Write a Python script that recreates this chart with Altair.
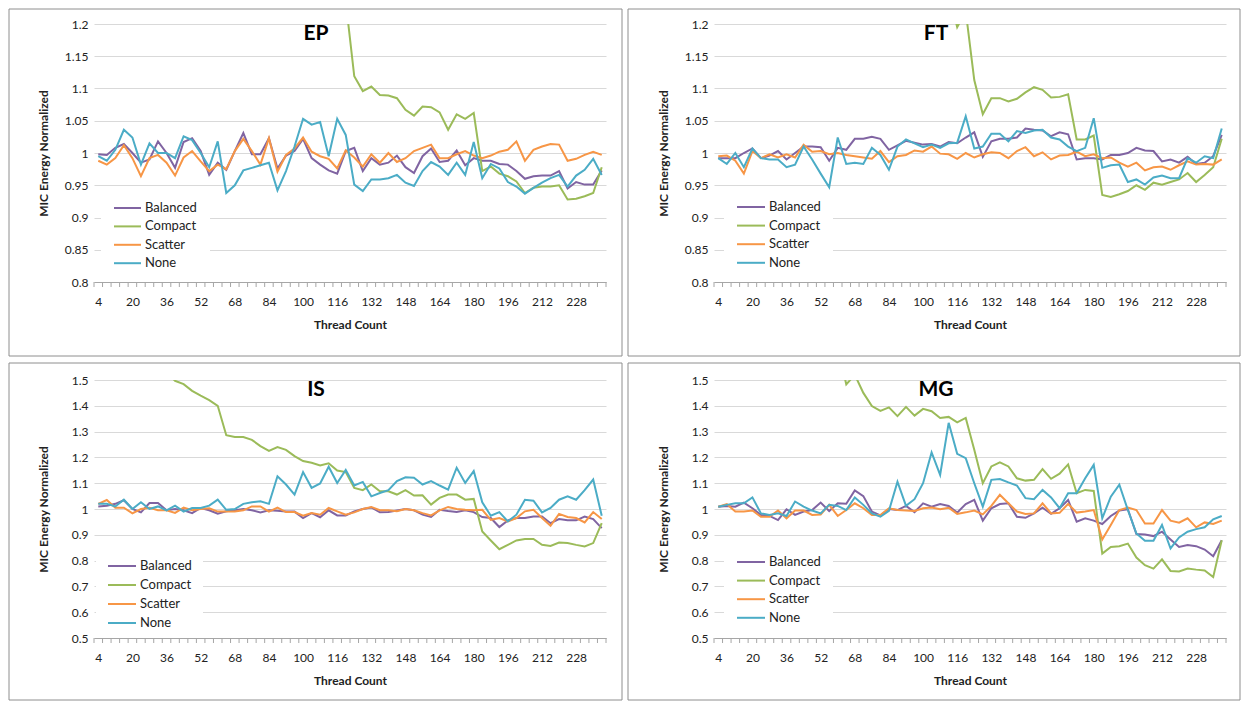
import altair as alt
import pandas as pd

# ---------------- data ----------------
THREADS = list(range(4, 241, 4))
SERIES = ["Balanced", "Compact", "Scatter", "None"]
COLORS = ["#8064A2", "#9BBB59", "#F79646", "#4BACC6"]
X_LABELS = list(range(4, 229, 16))
Y_TICKS_TOP = [0.8, 0.85, 0.9, 0.95, 1.0, 1.05, 1.1, 1.15, 1.2]
Y_TICKS_BOTTOM = [0.5, 0.6, 0.7, 0.8, 0.9, 1.0, 1.1, 1.2, 1.3, 1.4, 1.5]

EP_BALANCED = [0.998, 0.997, 1.008, 1.014, 1.000, 0.985, 0.990, 1.018, 1.000, 0.977, 1.017, 1.023, 1.003, 0.966, 0.985, 0.974, 1.003, 1.031, 0.998, 0.998, 1.023, 0.976,
               0.996, 1.003, 1.022, 0.992, 0.982, 0.973, 0.968, 1.003, 1.008, 0.972, 0.992, 0.982, 0.985, 0.996, 0.978, 0.969, 0.995, 1.007, 0.986, 0.988,
               1.004, 0.981, 0.992, 0.988, 0.988, 0.983, 0.982, 0.972, 0.960, 0.964, 0.965, 0.965, 0.972, 0.945, 0.955, 0.951, 0.951, 0.973]
EP_COMPACT = [1.95, 1.93, 1.90, 1.88, 1.86, 1.83, 1.80, 1.78, 1.75, 1.72, 1.70, 1.67, 1.65, 1.62, 1.60, 1.58, 1.55, 1.53, 1.50, 1.48, 1.46, 1.44,
              1.42, 1.40, 1.38, 1.36, 1.34, 1.31, 1.29, 1.235, 1.119, 1.096, 1.103, 1.090, 1.089, 1.085, 1.067, 1.058, 1.072, 1.071, 1.063, 1.036,
              1.060, 1.053, 1.062, 0.972, 0.979, 0.968, 0.964, 0.956, 0.938, 0.946, 0.948, 0.948, 0.950, 0.928, 0.929, 0.933, 0.938, 0.978]
EP_SCATTER = [0.988, 0.982, 0.992, 1.012, 0.992, 0.964, 0.992, 0.997, 0.985, 0.965, 0.993, 1.003, 0.987, 0.972, 0.982, 0.975, 1.003, 1.022, 1.003, 0.982, 1.023, 0.971,
              0.997, 1.007, 1.024, 1.002, 0.995, 0.991, 0.976, 1.004, 0.993, 0.979, 0.998, 0.985, 1.000, 0.986, 0.992, 1.003, 1.008, 1.013, 0.992, 0.992,
              0.998, 1.003, 0.996, 0.992, 0.996, 1.002, 1.005, 1.018, 0.988, 1.005, 1.010, 1.014, 1.013, 0.988, 0.991, 0.997, 1.002, 0.997]
EP_NONE = [0.995, 0.988, 1.005, 1.036, 1.024, 0.982, 1.015, 1.000, 1.000, 0.992, 1.026, 1.020, 1.000, 0.978, 1.018, 0.938, 0.950, 0.973, 0.977, 0.981, 0.985, 0.942,
           0.972, 1.010, 1.053, 1.044, 1.048, 0.995, 1.053, 1.028, 0.951, 0.941, 0.959, 0.959, 0.961, 0.966, 0.954, 0.949, 0.972, 0.986, 0.979, 0.966,
           0.985, 0.966, 1.017, 0.961, 0.983, 0.976, 0.955, 0.948, 0.937, 0.946, 0.954, 0.961, 0.966, 0.948, 0.965, 0.974, 0.991, 0.966]

FT_BALANCED = [0.992, 0.992, 0.992, 1.000, 1.007, 0.992, 0.996, 1.003, 0.990, 1.000, 1.010, 1.010, 1.009, 0.988, 1.008, 1.005, 1.022, 1.022, 1.025, 1.022, 1.005, 1.012,
               1.019, 1.016, 1.013, 1.014, 1.010, 1.017, 1.015, 1.024, 1.032, 0.994, 1.018, 1.022, 1.022, 1.024, 1.038, 1.036, 1.035, 1.026, 1.032, 1.029,
               0.990, 0.992, 0.992, 0.990, 0.997, 0.997, 1.000, 1.008, 1.004, 1.003, 0.987, 0.990, 0.985, 0.994, 0.983, 0.985, 0.995, 1.028]
FT_COMPACT = [1.81, 1.78, 1.77, 1.74, 1.71, 1.70, 1.67, 1.66, 1.63, 1.62, 1.59, 1.58, 1.55, 1.54, 1.52, 1.49, 1.48, 1.45, 1.44, 1.41, 1.40, 1.37,
              1.36, 1.33, 1.32, 1.29, 1.27, 1.25, 1.195, 1.22, 1.113, 1.060, 1.085, 1.085, 1.080, 1.084, 1.094, 1.102, 1.098, 1.086, 1.087, 1.091,
              1.021, 1.021, 1.027, 0.935, 0.932, 0.936, 0.941, 0.950, 0.943, 0.954, 0.951, 0.955, 0.959, 0.969, 0.955, 0.966, 0.978, 1.022]
FT_SCATTER = [0.995, 0.996, 0.988, 0.968, 1.003, 0.992, 0.998, 0.993, 0.998, 0.993, 1.013, 1.002, 1.003, 0.998, 1.000, 0.997, 0.995, 0.993, 0.991, 1.003, 0.986, 0.995,
              0.997, 1.004, 1.002, 1.010, 0.999, 0.998, 0.991, 1.000, 0.993, 0.998, 1.001, 1.000, 0.992, 1.003, 1.009, 0.995, 1.001, 0.990, 0.996, 0.997,
              1.002, 0.995, 0.998, 0.992, 0.993, 0.985, 0.979, 0.985, 0.973, 0.978, 0.979, 0.974, 0.981, 0.987, 0.982, 0.983, 0.982, 0.990]
FT_NONE = [0.992, 0.983, 1.000, 0.978, 1.007, 0.992, 0.990, 0.990, 0.978, 0.982, 1.010, 0.990, 0.968, 0.947, 1.024, 0.983, 0.985, 0.983, 1.008, 0.997, 0.974, 1.010,
           1.021, 1.015, 1.009, 1.013, 1.008, 1.015, 1.016, 1.057, 1.007, 1.010, 1.030, 1.030, 1.018, 1.034, 1.031, 1.035, 1.036, 1.024, 1.021, 1.010,
           1.003, 1.008, 1.054, 0.977, 0.981, 0.982, 0.955, 0.959, 0.951, 0.962, 0.965, 0.961, 0.961, 0.992, 0.985, 0.995, 0.992, 1.038]

IS_BALANCED = [1.010, 1.013, 1.020, 1.034, 1.000, 0.987, 1.023, 1.023, 0.995, 1.000, 0.995, 0.984, 1.004, 0.995, 0.982, 0.991, 0.995, 1.000, 0.995, 0.987, 0.995, 0.993,
               0.990, 0.990, 0.965, 0.984, 0.968, 0.995, 0.975, 0.975, 0.991, 1.000, 1.006, 0.987, 0.988, 0.994, 1.000, 0.995, 0.978, 0.969, 0.997, 0.992,
               0.988, 0.995, 0.988, 0.969, 0.965, 0.930, 0.956, 0.965, 0.965, 0.971, 0.971, 0.945, 0.961, 0.956, 0.956, 0.971, 0.961, 0.926]
IS_COMPACT = [2.10, 2.02, 1.95, 1.88, 1.80, 1.73, 1.66, 1.60, 1.53, 1.497, 1.484, 1.458, 1.439, 1.422, 1.400, 1.286, 1.279, 1.279, 1.268, 1.244, 1.225, 1.240,
              1.229, 1.205, 1.186, 1.179, 1.169, 1.177, 1.149, 1.143, 1.082, 1.073, 1.095, 1.069, 1.069, 1.056, 1.073, 1.052, 1.053, 1.017, 1.043, 1.056,
              1.056, 1.036, 1.039, 0.913, 0.878, 0.844, 0.861, 0.878, 0.884, 0.884, 0.861, 0.857, 0.870, 0.868, 0.861, 0.855, 0.868, 0.945]
IS_SCATTER = [1.020, 1.035, 1.005, 1.005, 0.983, 1.000, 1.005, 0.995, 0.995, 0.985, 1.005, 0.995, 1.000, 1.003, 0.990, 0.990, 0.990, 0.995, 1.010, 1.010, 0.990, 1.005,
              0.988, 0.988, 0.974, 0.984, 0.978, 1.004, 0.991, 0.978, 0.987, 1.000, 1.008, 0.995, 0.995, 0.991, 1.000, 0.995, 0.984, 0.975, 0.995, 1.008,
              1.000, 0.997, 0.995, 0.997, 0.958, 0.965, 0.952, 0.965, 0.991, 0.997, 0.965, 0.935, 0.981, 0.969, 0.965, 0.948, 0.988, 0.961]
IS_NONE = [1.020, 1.020, 1.010, 1.036, 1.000, 1.026, 1.000, 1.010, 0.995, 1.013, 0.990, 1.004, 1.004, 1.013, 1.036, 0.997, 1.000, 1.020, 1.026, 1.030, 1.020, 1.127,
           1.095, 1.056, 1.143, 1.082, 1.099, 1.164, 1.101, 1.151, 1.091, 1.105, 1.049, 1.062, 1.073, 1.108, 1.123, 1.121, 1.095, 1.108, 1.091, 1.075,
           1.160, 1.101, 1.147, 1.026, 0.974, 0.988, 0.952, 0.978, 1.036, 1.032, 0.987, 1.004, 1.036, 1.049, 1.036, 1.073, 1.114, 0.974]

MG_BALANCED = [1.009, 1.012, 1.009, 1.025, 1.003, 0.977, 0.973, 0.957, 0.999, 0.977, 0.990, 0.996, 1.025, 0.992, 1.022, 1.020, 1.072, 1.050, 0.990, 0.975, 1.000, 0.996,
               1.012, 0.988, 1.022, 1.009, 1.019, 1.012, 0.986, 1.019, 1.035, 0.955, 1.003, 1.019, 1.022, 0.970, 0.966, 0.983, 1.005, 0.981, 1.003, 1.035,
               0.951, 0.964, 0.955, 0.942, 0.973, 0.994, 0.999, 0.903, 0.901, 0.895, 0.912, 0.882, 0.853, 0.860, 0.856, 0.843, 0.817, 0.879]
MG_COMPACT = [2.30, 2.22, 2.15, 2.08, 2.02, 1.96, 1.90, 1.85, 1.80, 1.76, 1.72, 1.69, 1.67, 1.65, 1.63, 1.483, 1.52, 1.45, 1.399, 1.380, 1.394, 1.360,
              1.396, 1.362, 1.388, 1.379, 1.353, 1.357, 1.336, 1.353, 1.230, 1.100, 1.165, 1.181, 1.165, 1.119, 1.110, 1.113, 1.155, 1.117, 1.137, 1.173,
              1.061, 1.074, 1.070, 0.827, 0.853, 0.856, 0.866, 0.812, 0.782, 0.769, 0.805, 0.760, 0.758, 0.769, 0.765, 0.762, 0.736, 0.879]
MG_SCATTER = [1.009, 1.019, 0.990, 0.990, 0.994, 0.970, 0.970, 0.994, 0.964, 0.994, 0.994, 0.977, 0.979, 1.016, 0.973, 0.996, 1.022, 1.003, 0.977, 0.977, 1.003, 0.996,
              0.994, 0.992, 1.003, 1.006, 0.999, 1.005, 0.981, 0.987, 0.994, 0.979, 1.012, 1.055, 1.022, 0.990, 0.981, 0.983, 1.022, 0.983, 0.985, 1.020,
              0.986, 0.990, 0.996, 0.882, 0.938, 0.996, 1.006, 0.996, 0.944, 0.944, 0.996, 0.955, 0.947, 0.964, 0.929, 0.948, 0.942, 0.955]
MG_NONE = [1.009, 1.016, 1.022, 1.022, 1.045, 0.983, 0.977, 0.983, 0.973, 1.029, 1.009, 0.994, 0.983, 1.016, 1.012, 0.996, 1.045, 1.016, 0.983, 0.970, 0.993, 1.106,
           1.012, 1.038, 1.100, 1.219, 1.132, 1.334, 1.214, 1.197, 1.100, 1.009, 1.113, 1.116, 1.103, 1.091, 1.042, 1.038, 1.074, 1.045, 1.003, 1.061,
           1.061, 1.119, 1.171, 0.964, 1.048, 1.094, 0.996, 0.905, 0.877, 0.877, 0.938, 0.847, 0.890, 0.912, 0.922, 0.929, 0.960, 0.973]

# ---------------- layout / style ----------------
W, H = 512, 258
FONT = "Lato"
TXT = "#222222"
AXIS_GRAY = "#A6A6A6"
FRAME_GRAY = "#8E8E8E"

BOUNDARIES = [t - 2 for t in THREADS] + [THREADS[-1] + 2]


def make_panel(title, values, y_dom, y_ticks, leg, frame_box):
    x_sc = alt.Scale(domain=[BOUNDARIES[0], BOUNDARIES[-1]], nice=False, zero=False)
    y_sc = alt.Scale(domain=y_dom, nice=False, zero=False)
    x_axis = alt.Axis(values=X_LABELS, title="Thread Count", grid=False, ticks=False, tickSize=0,
                      domainColor=AXIS_GRAY, labelFont=FONT, labelFontSize=12, labelColor=TXT,
                      labelPadding=14, labelFlush=False, labelOverlap=False,
                      titleFont=FONT, titleFontSize=12, titleFontWeight="bold", titleColor=TXT,
                      titleY=42, titleBaseline="middle")
    y_axis = alt.Axis(values=y_ticks, format="~g", title="MIC Energy Normalized", grid=True,
                      gridColor="#D9D9D9", gridWidth=1, domain=False, ticks=False,
                      labelFont=FONT, labelFontSize=12, labelColor=TXT, labelPadding=6,
                      titleFont=FONT, titleFontSize=12, titleFontWeight="bold", titleColor=TXT,
                      titleX=-51, titleY=H / 2, titleAngle=270, titleAlign="center",
                      titleBaseline="middle")

    line_layers = []
    for s, c, vals in zip(SERIES, COLORS, values):
        d = pd.DataFrame({"thread": THREADS, "value": vals})
        line_layers.append(
            alt.Chart(d).mark_line(clip=True, strokeWidth=2, color=c).encode(
                x=alt.X("thread:Q", scale=x_sc, axis=x_axis),
                y=alt.Y("value:Q", scale=y_sc, axis=y_axis),
            )
        )
    ticks = alt.Chart(pd.DataFrame({"b": BOUNDARIES})).mark_rule(color=AXIS_GRAY, strokeWidth=1).encode(
        x=alt.X("b:Q", scale=x_sc, axis=x_axis),
        y=alt.value(H),
        y2=alt.value(H + 5),
    )
    lines = alt.layer(*line_layers, ticks)

    one = pd.DataFrame({"k": [0]})
    fl, fr, ft_, fb = frame_box
    frame = alt.Chart(one).mark_rect(filled=False, stroke=FRAME_GRAY, strokeWidth=1).encode(
        x=alt.value(fl), x2=alt.value(W + fr), y=alt.value(ft_), y2=alt.value(H + fb)
    )
    bx0, bx1, by0, by1 = leg["box"]
    box = alt.Chart(one).mark_rect(fill="white").encode(
        x=alt.value(bx0), x2=alt.value(bx1), y=alt.value(by0), y2=alt.value(by1)
    )
    leg_df = pd.DataFrame({"series": SERIES, "row": [0, 1, 2, 3]})
    row_sc = alt.Scale(domain=[0, 3], range=[leg["row0"], leg["row0"] + 3 * leg["step"]])
    color_sc = alt.Scale(domain=SERIES, range=COLORS)
    leg_lines = alt.Chart(leg_df).mark_rule(strokeWidth=2).encode(
        x=alt.value(leg["sample"][0]), x2=alt.value(leg["sample"][1]),
        y=alt.Y("row:Q", scale=row_sc, axis=None),
        color=alt.Color("series:N", scale=color_sc, legend=None),
    )
    leg_text = alt.Chart(leg_df).mark_text(align="left", baseline="middle", font=FONT,
                                           fontSize=13, color=TXT).encode(
        x=alt.value(leg["text_x"]),
        y=alt.Y("row:Q", scale=row_sc, axis=None),
        text="series:N",
    )
    ttl = alt.Chart(one).mark_text(text=title, font=FONT, fontSize=21, fontWeight="bold",
                                   color="#000000", align="center", baseline="middle").encode(
        x=alt.value(222), y=alt.value(10)
    )
    return alt.layer(frame, lines, box, leg_lines, leg_text, ttl).resolve_scale(
        y="independent"
    ).properties(width=W, height=H)


ep = make_panel("EP", [EP_BALANCED, EP_COMPACT, EP_SCATTER, EP_NONE], [0.8, 1.2], Y_TICKS_TOP,
                dict(box=(7, 116, 174, 250), sample=(20, 47), text_x=51, row0=184, step=18.4),
                (-85, 16, -15, 74))
ft = make_panel("FT", [FT_BALANCED, FT_COMPACT, FT_SCATTER, FT_NONE], [0.8, 1.2], Y_TICKS_TOP,
                dict(box=(10, 119, 172, 250), sample=(23, 51), text_x=55, row0=183, step=18.6),
                (-86, 14, -15, 74))
is_ = make_panel("IS", [IS_BALANCED, IS_COMPACT, IS_SCATTER, IS_NONE], [0.5, 1.5], Y_TICKS_BOTTOM,
                 dict(box=(2, 109, 171, 254), sample=(14, 42), text_x=46, row0=186, step=19),
                 (-85, 16, -17, 62))
mg = make_panel("MG", [MG_BALANCED, MG_COMPACT, MG_SCATTER, MG_NONE], [0.5, 1.5], Y_TICKS_BOTTOM,
                dict(box=(10, 119, 170, 252), sample=(23, 51), text_x=55, row0=182, step=18.6),
                (-86, 14, -17, 62))

chart = alt.concat(ep, ft, is_, mg, columns=2, bounds="flush",
                   spacing={"row": 98, "column": 108}).resolve_scale(
    x="independent", y="independent"
).properties(padding=0, background="white").configure_view(stroke="transparent")

chart.save("out.html", embed_options={"renderer": "svg", "actions": False})
